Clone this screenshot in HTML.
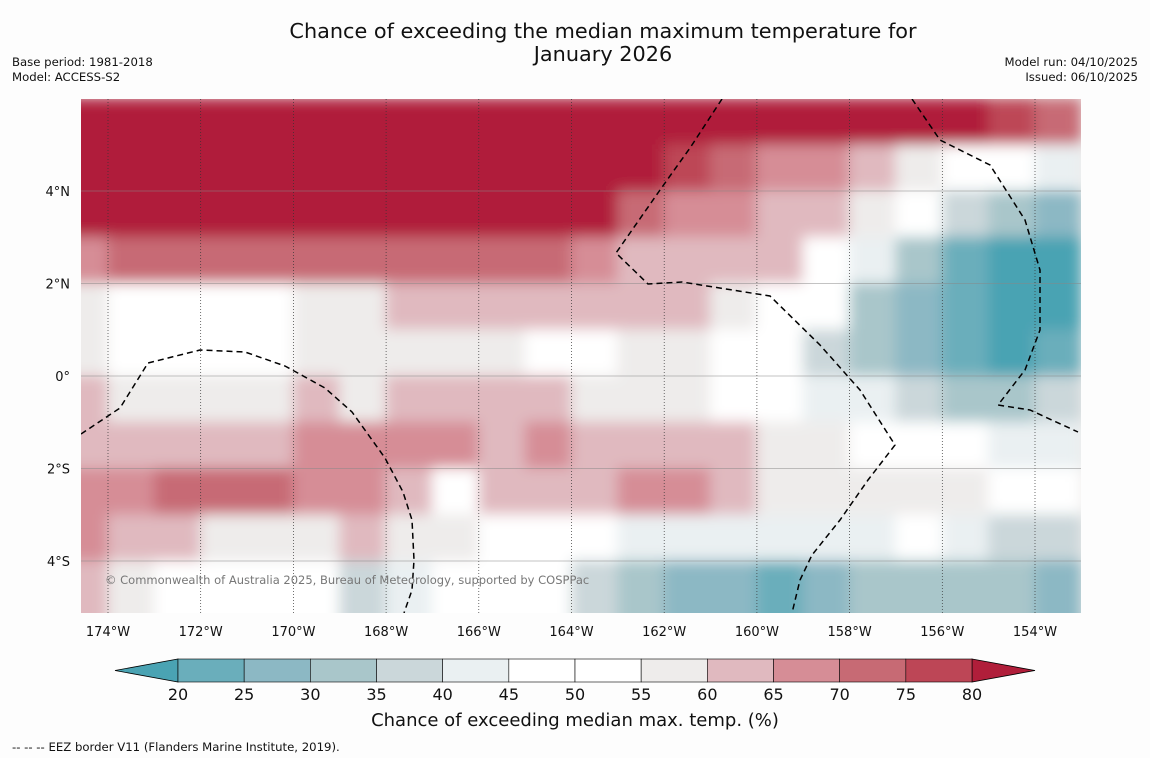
<!DOCTYPE html>
<html><head><meta charset="utf-8">
<style>
body{margin:0;background:#fdfdfd;font-family:"DejaVu Sans","Liberation Sans",sans-serif;}
#wrap{position:relative;width:1150px;height:758px;overflow:hidden;background:#fdfdfd;}
</style></head>
<body>
<div id="wrap">
<svg id="svg" width="1150" height="758" xmlns="http://www.w3.org/2000/svg" font-family="DejaVu Sans, Liberation Sans, sans-serif">
<defs>
<clipPath id="plotclip"><rect x="81" y="99" width="1000" height="514"/></clipPath>
<filter id="blur" x="-5%" y="-5%" width="110%" height="110%"><feGaussianBlur stdDeviation="7"/></filter>
</defs>
<text x="603" y="38" text-anchor="middle" font-size="20.8" fill="#111">Chance of exceeding the median maximum temperature for</text>
<text x="603" y="61" text-anchor="middle" font-size="20.8" fill="#111">January 2026</text>
<text x="12" y="66" font-size="11.7" fill="#111">Base period: 1981-2018</text>
<text x="12" y="81" font-size="11.7" fill="#111">Model: ACCESS-S2</text>
<text x="1138" y="66" font-size="11.7" fill="#111" text-anchor="end">Model run: 04/10/2025</text>
<text x="1138" y="81" font-size="11.7" fill="#111" text-anchor="end">Issued: 06/10/2025</text>
<g id="plot" clip-path="url(#plotclip)">
<rect x="81" y="99" width="1000" height="514" fill="#eeeceb"/>
<g id="cells" filter="url(#blur)"></g>
<g id="grid"></g>
<path d="M81,434 L120,408 L148,363 L200,350 L245,352 L285,366 L325,388 L352,412 L385,458 L403,492 L412,520 L414,560 L412,590 L404,613" fill="none" stroke="#000" stroke-width="1.5" stroke-dasharray="6,4"/>
<path d="M722,99 L690,148 L660,190 L616,253 L648,284 L682,282 L770,296 L820,345 L860,390 L895,445 L868,480 L840,520 L812,555 L800,580 L792,613" fill="none" stroke="#000" stroke-width="1.5" stroke-dasharray="6,4"/>
<path d="M912,99 L940,140 L990,165 L1025,220 L1040,270 L1040,330 L1025,370 L998,405 L1030,410 L1078,432" fill="none" stroke="#000" stroke-width="1.5" stroke-dasharray="6,4"/>
<text x="105" y="584" font-size="11.5" fill="#777">© Commonwealth of Australia 2025, Bureau of Meteorology, supported by COSPPac</text>
</g>
<g id="axes"></g>
<g id="cbar"></g>
<text x="575" y="726" text-anchor="middle" font-size="18" fill="#111">Chance of exceeding median max. temp. (%)</text>
<text x="12" y="751" font-size="11.7" fill="#111">--  --  -- EEZ border V11 (Flanders Marine Institute, 2019).</text>
</svg>
</div>
<script>
// longitude cell centres (deg, negative = W) and latitude cell centres
const lons = [-174.5,-173.5,-172.5,-171.5,-170.5,-169.5,-168.5,-167.5,-166.5,-165.5,-164.5,-163.5,-162.5,-161.5,-160.5,-159.5,-158.5,-157.5,-156.5,-155.5,-154.5,-153.5];
const lats = [5.5,4.5,3.5,2.5,1.5,0.5,-0.5,-1.5,-2.5,-3.5,-4.5,-5.5];
const row0 = [85,85,85,85,85,85,85,85,85,85,85,85,85,85,85,85,85,85,85,82,77,72];
const row1 = [85,85,85,85,85,85,85,85,85,85,85,85,85,77,72,67,67,62,57,52,47,42];
const row2 = [82,82,82,85,85,85,85,85,85,85,85,82,72,67,67,62,62,57,47,37,32,27];
const row3 = [67,72,72,72,72,72,72,72,72,72,72,67,62,62,62,62,52,42,32,22,17,17];
const row4 = [57,52,52,52,52,57,57,62,62,62,62,62,62,62,57,52,47,32,27,22,17,17];
const row5 = [57,52,47,47,52,57,57,57,57,57,52,52,57,57,52,47,37,32,27,22,17,22];
const row6 = [62,57,57,57,57,62,57,62,62,62,62,57,57,57,52,47,42,42,37,32,32,37];
const row7 = [62,62,62,62,62,67,67,67,67,62,67,62,62,62,62,57,57,52,47,47,42,42];
const row8 = [67,67,72,72,72,67,67,62,52,62,62,62,67,67,62,57,57,57,57,57,52,52];
const row9 = [67,62,62,57,57,57,62,57,57,52,52,47,42,42,42,42,42,42,47,42,37,37];
const row10 = [62,57,52,52,52,47,37,42,47,47,47,37,32,27,27,22,27,32,32,32,32,27];
const row11 = [62,57,52,52,52,47,37,42,47,47,47,37,32,27,27,22,27,32,32,32,32,27];
const grid = [row0,row1,row2,row3,row4,row5,row6,row7,row8,row9,row10,row11];
const binEdges = [20,25,30,35,40,45,50,55,60,65,70,75,80];
const binColors = ["#4aa3b3","#6aaebb","#8cb8c4","#a9c6ca","#cbd7da","#eaf0f2","#ffffff","#ffffff","#eeeceb","#e0b9bf","#d68d96","#c76a74","#bd4656","#b01e3a"];
const lonTicks = [-174,-172,-170,-168,-166,-164,-162,-160,-158,-156,-154];
const latTicks = [4,2,0,-2,-4];
const cbarTicks = [20,25,30,35,40,45,50,55,60,65,70,75,80];

const NS="http://www.w3.org/2000/svg";
const xOf = lon => 108 + (lon+174)*46.35;
const yOf = lat => 376 - lat*46.25;
const cbX = v => 178 + (v-20)*(794/60);
function colorFor(v){let i=0;while(i<binEdges.length && v>=binEdges[i]) i++;return binColors[i];}
function mk(tag,attrs,parent){const e=document.createElementNS(NS,tag);for(const k in attrs)e.setAttribute(k,attrs[k]);parent.appendChild(e);return e;}

const cells=document.getElementById('cells');
grid.forEach((row,j)=>row.forEach((v,i)=>{
  const x0=xOf(lons[i]-0.5), x1=xOf(lons[i]+0.5), y0=yOf(lats[j]+0.5), y1=yOf(lats[j]-0.5);
  const r=mk('rect',{x:x0-0.5,y:y0-0.5,width:x1-x0+1,height:y1-y0+1,fill:colorFor(v)},cells);
  
  
}));

const g=document.getElementById('grid');
lonTicks.forEach(l=>{
  const ln=mk('line',{x1:xOf(l),x2:xOf(l),y1:99,y2:613,stroke:'#333','stroke-width':0.7,'stroke-dasharray':'1,2'},g);
  
  
});
latTicks.forEach(l=>{
  const ln=mk('line',{x1:81,x2:1081,y1:yOf(l),y2:yOf(l),stroke:'#888','stroke-width':0.6},g);
  
  
});

const ax=document.getElementById('axes');
lonTicks.forEach(l=>{
  const t=mk('text',{x:xOf(l),y:636,'text-anchor':'middle','font-size':13,fill:'#111'},ax);
  t.textContent=Math.abs(l)+'°W';
  
  
});
latTicks.forEach(l=>{
  const t=mk('text',{x:70,y:yOf(l)+5,'text-anchor':'end','font-size':13,fill:'#111'},ax);
  t.textContent=l===0?'0°':Math.abs(l)+'°'+(l>0?'N':'S');
  
  
});

const cb=document.getElementById('cbar');
const lt=mk('polygon',{points:`115,670.5 ${cbX(20)},659 ${cbX(20)},682`,fill:binColors[0],stroke:'#000','stroke-width':0.8},cb);


const rt=mk('polygon',{points:`${cbX(80)},659 1035,670.5 ${cbX(80)},682`,fill:binColors[13],stroke:'#000','stroke-width':0.8},cb);


for(let i=0;i<binEdges.length-1;i++){
  const r=mk('rect',{x:cbX(binEdges[i]),y:659,width:cbX(binEdges[i+1])-cbX(binEdges[i]),height:23,fill:binColors[i+1],stroke:'#000','stroke-width':0.6},cb);
  
  
}
cbarTicks.forEach(v=>{
  const t=mk('text',{x:cbX(v),y:700,'text-anchor':'middle','font-size':16,fill:'#111'},cb);
  t.textContent=v;
  
  
});
</script>
</body></html>
